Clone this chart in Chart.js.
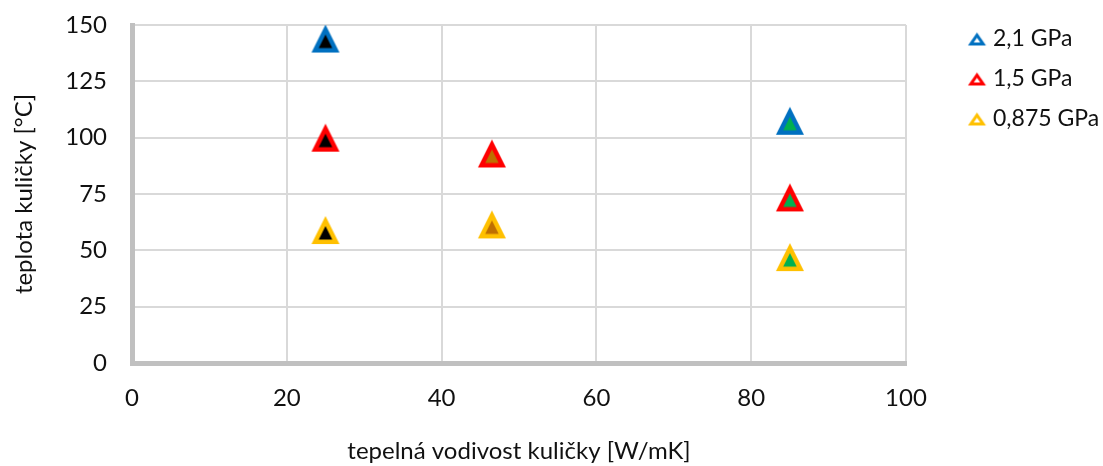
<!DOCTYPE html>
<html>
<head>
<meta charset="utf-8">
<script src="https://cdn.jsdelivr.net/npm/chart.js@4.4.1/dist/chart.umd.min.js"></script>
<style>
	html, body { margin: 0; padding: 0; background: #fff; }
	canvas { display: block; }
</style>
</head>
<body>
<canvas id="chart" width="1103" height="466"></canvas>
<script>
// data
const seriesNames = ['2,1 GPa', '1,5 GPa', '0,875 GPa'];
const conductivity21 = [25, 85];
const temperature21 = [144, 107.5];
const conductivity15 = [25, 46.5, 85];
const temperature15 = [100, 93, 73.5];
const conductivity0875 = [25, 46.5, 85];
const temperature0875 = [59, 61.5, 47];
const xTickValues = [0, 20, 40, 60, 80, 100];
const yTickValues = [0, 25, 50, 75, 100, 125, 150];

// styles
const seriesBorders = ['#0070C0', '#FF0000', '#FFC000'];
function fillFor(x) {
	if (x < 35) return '#000000';
	if (x < 60) return '#BF6F00';
	return '#00B050';
}
const TEXT = '#111111';
const FONT = 'Lato';

function makeTriangle(cw, ch, cx, cy, w, h, t, stroke, fill) {
	const c = document.createElement('canvas');
	c.width = cw;
	c.height = ch;
	const g = c.getContext('2d');
	const A = [cx, cy - h / 2], B = [cx + w / 2, cy + h / 2], C = [cx - w / 2, cy + h / 2];
	const d = (p, q) => Math.hypot(p[0] - q[0], p[1] - q[1]);
	const a = d(B, C), b = d(A, C), cc = d(A, B);
	const per = a + b + cc;
	const I = [(a * A[0] + b * B[0] + cc * C[0]) / per, (a * A[1] + b * B[1] + cc * C[1]) / per];
	const r = (w * h) / per;
	const k = (r - t) / r;
	const tri = (s) => {
		g.beginPath();
		[A, B, C].forEach((v, i) => {
			const x = I[0] + s * (v[0] - I[0]), y = I[1] + s * (v[1] - I[1]);
			if (i === 0) g.moveTo(x, y); else g.lineTo(x, y);
		});
		g.closePath();
	};
	g.fillStyle = stroke;
	tri(1);
	g.fill();
	g.fillStyle = fill;
	tri(k);
	g.fill();
	return c;
}

function markers(xs, border) {
	return xs.map(x => makeTriangle(32, 32, 16, 16, 28, 28, 4.5, border, fillFor(x)));
}

// legend marker sits at the right end of a wide transparent canvas
const legendMarkers = seriesBorders.map(col => makeTriangle(72, 24, 60.75, 12.5, 18, 13, 3, col, '#ffffff'));

function toPoints(xs, ys) {
	return xs.map((x, i) => ({x: x, y: ys[i]}));
}

const datasets = [
	{x: conductivity21, y: temperature21},
	{x: conductivity15, y: temperature15},
	{x: conductivity0875, y: temperature0875},
].map((s, i) => ({
	label: seriesNames[i],
	data: toPoints(s.x, s.y),
	pointStyle: markers(s.x, seriesBorders[i]),
	pointRadius: 14,
	borderColor: seriesBorders[i],
	backgroundColor: seriesBorders[i],
}));

Chart.defaults.font.family = FONT;
Chart.defaults.color = TEXT;

const chart = new Chart(document.getElementById('chart'), {
	type: 'scatter',
	data: {datasets: datasets},
	options: {
		responsive: false,
		animation: false,
		layout: {padding: {top: 10, left: 0, right: 0, bottom: 0}},
		scales: {
			x: {
				min: 0,
				max: 100,
				afterBuildTicks: axis => { axis.ticks = xTickValues.map(v => ({value: v})); },
				afterFit: axis => { axis.height = 103; axis.paddingRight = 197; },
				grid: {color: '#d9d9d9', lineWidth: 2, drawTicks: false},
				border: {color: '#c0c0c0', width: 5},
				ticks: {padding: 21, font: {size: 24}, color: TEXT, maxRotation: 0},
				title: {
					display: true,
					text: 'tepelná vodivost kuličky [W/mK]',
					font: {size: 24},
					color: TEXT,
					padding: {top: 0, bottom: 0},
				},
			},
			y: {
				min: 0,
				max: 150,
				afterBuildTicks: axis => { axis.ticks = yTickValues.map(v => ({value: v})); },
				afterFit: axis => { axis.width = 132; axis.paddingTop = 25; },
				grid: {color: '#d9d9d9', lineWidth: 2, drawTicks: false},
				border: {color: '#c0c0c0', width: 5},
				ticks: {padding: 25, font: {size: 24}, color: TEXT},
				title: {
					display: true,
					text: 'teplota kuličky [°C]',
					font: {size: 24},
					color: TEXT,
					padding: {top: 10, bottom: 0},
				},
			},
		},
		plugins: {
			legend: {
				position: 'right',
				align: 'start',
				maxWidth: 197,
				labels: {
					usePointStyle: true,
					pointStyleWidth: 58.5,
					padding: 17,
					font: {size: 23},
					color: TEXT,
					generateLabels: c => Chart.defaults.plugins.legend.labels.generateLabels(c)
						.map((item, i) => Object.assign(item, {pointStyle: legendMarkers[i]})),
				},
			},
			tooltip: {enabled: false},
		},
	},
});
</script>
</body>
</html>
